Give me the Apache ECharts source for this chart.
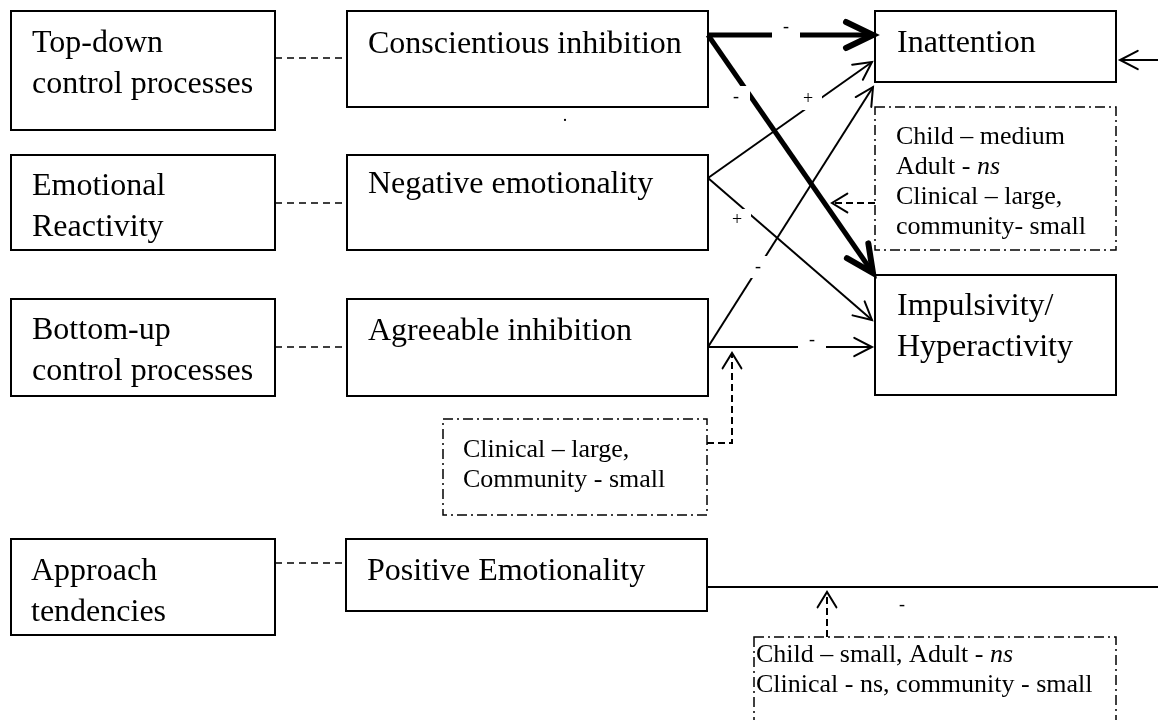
<!DOCTYPE html>
<html>
<head>
<meta charset="utf-8">
<title>Temperament traits and ADHD symptom pathways</title>
<script src="https://cdn.jsdelivr.net/npm/echarts@6/dist/echarts.min.js"></script>
<style>
  html, body { margin: 0; padding: 0; background: #fff; }
  #main { width: 1158px; height: 720px; }
</style>
</head>
<body>
<div id="main"></div>
<script>
// diagram units: x 0..1158, y 0..720 measured from the top

// solid boxes: text lines, rectangle [x0, y0, x1, y1], first baseline [x, y]
const boxText = [
  ['Top-down', 'control processes'],
  ['Emotional', 'Reactivity'],
  ['Bottom-up', 'control processes'],
  ['Approach', 'tendencies'],
  ['Conscientious inhibition'],
  ['Negative emotionality'],
  ['Agreeable inhibition'],
  ['Positive Emotionality'],
  ['Inattention'],
  ['Impulsivity/', 'Hyperactivity']
]
const boxRect = [
  [11, 11, 275, 130],
  [11, 155, 275, 250],
  [11, 299, 275, 396],
  [11, 539, 275, 635],
  [347, 11, 708, 107],
  [347, 155, 708, 250],
  [347, 299, 708, 396],
  [346, 539, 707, 611],
  [875, 11, 1116, 82],
  [875, 275, 1116, 395]
]
const boxTextAt = [
  [32, 52], [32, 195], [32, 339], [31, 580],
  [368, 53], [368, 193], [368, 340], [367, 580],
  [897, 52], [897, 315]
]

// dash-dot moderator notes
const noteText = [
  ['Child – medium', 'Adult - {i|ns}', 'Clinical – large,', 'community- small'],
  ['Clinical – large,', 'Community - small'],
  ['Child – small, Adult - {i|ns}', 'Clinical - ns, community - small']
]
const noteRect = [
  [875, 107, 1116, 250],
  [443, 419, 707, 515],
  [754, 637, 1116, 740]
]
const noteTextAt = [[896, 144], [463, 457], [756, 662]]

// dashed links between trait level and construct level
const linkPaths = [
  [[275, 58], [347, 58]],
  [[275, 203], [347, 203]],
  [[275, 347], [347, 347]],
  [[275, 563], [346, 563]]
]

// effects on symptoms
const strongPaths = [
  [[708, 35], [873, 35]],
  [[708, 35], [873, 273]]
]
const effectPaths = [
  [[708, 178], [872, 62]],
  [[708, 178], [872, 320]],
  [[708, 347], [873, 87]],
  [[708, 347], [872, 347]],
  [[1158, 60], [1120, 60]]
]
const plainPaths = [
  [[707, 587], [1158, 587]]
]
const moderatorPaths = [
  [[875, 203], [832, 203]],
  [[707, 443], [732, 443], [732, 353]],
  [[827, 637], [827, 592]]
]

// signs on the paths
const signText = ['-', '-', '+', '+', '-', '-', '-']
const signAt = [
  [786, 27], [736, 97], [808, 99], [737, 220],
  [758, 267], [812, 340], [902, 605]
]
// stray mark under the conscientious box
const dotText = ['.']
const dotAt = [[565, 116]]

const serif = '"Liberation Serif", "Times New Roman", serif'
const midShift = 0.25 // baseline offset below a 'middle' aligned line, in em

function textLines (api, lines, at, size, gap) {
  return lines.map((t, k) => {
    const q = api.coord([at[0], at[1] + k * gap])
    return {
      type: 'text',
      style: {
        text: t,
        x: q[0],
        y: q[1] - midShift * size,
        fontSize: size,
        fontFamily: serif,
        fill: '#000',
        align: 'left',
        verticalAlign: 'middle',
        rich: {
          i: { fontSize: size, fontFamily: serif, fontStyle: 'italic', fill: '#000' }
        }
      }
    }
  })
}

function rectShape (api, r) {
  const p0 = api.coord([r[0], r[1]])
  const p1 = api.coord([r[2], r[3]])
  return { x: p0[0], y: p0[1], width: p1[0] - p0[0], height: p1[1] - p0[1] }
}

function head (tip, from, len, half) {
  const a = Math.atan2(tip[1] - from[1], tip[0] - from[0])
  return [
    [tip[0] - len * Math.cos(a - half), tip[1] - len * Math.sin(a - half)],
    tip,
    [tip[0] - len * Math.cos(a + half), tip[1] - len * Math.sin(a + half)]
  ]
}

function pathSeries (name, paths, opts) {
  return {
    name: name,
    type: 'custom',
    coordinateSystem: 'cartesian2d',
    z: opts.z || 3,
    silent: true,
    data: paths.map(p => [p[0][0], p[0][1], p[p.length - 1][0], p[p.length - 1][1]]),
    encode: { x: [0, 2], y: [1, 3] },
    renderItem: (params, api) => {
      const pts = paths[params.dataIndex].map(p => api.coord(p))
      const children = [{
        type: 'polyline',
        shape: { points: pts },
        style: { stroke: '#000', fill: null, lineWidth: opts.width, lineDash: opts.dash || null, lineCap: 'butt' }
      }]
      if (opts.headLen) {
        const n = pts.length
        children.push({
          type: 'polyline',
          shape: { points: head(pts[n - 1], pts[n - 2], opts.headLen, opts.headAngle) },
          style: { stroke: '#000', fill: null, lineWidth: opts.headWidth || opts.width, lineJoin: 'miter', lineCap: 'round' }
        })
      }
      return { type: 'group', children: children }
    }
  }
}

function markSeries (name, texts, at, gapW, gapH) {
  return {
    name: name,
    type: 'custom',
    coordinateSystem: 'cartesian2d',
    z: 5,
    silent: true,
    data: at,
    encode: { x: 0, y: 1 },
    renderItem: (params, api) => {
      const i = params.dataIndex
      const q = api.coord(at[i])
      const children = []
      if (gapW) {
        children.push({
          type: 'rect',
          shape: { x: q[0] - gapW / 2, y: q[1] - gapH / 2, width: gapW, height: gapH },
          style: { fill: '#fff' }
        })
      }
      children.push({
        type: 'text',
        style: {
          text: texts[i],
          x: q[0],
          y: q[1],
          fontSize: 18,
          fontFamily: serif,
          fill: '#000',
          align: 'center',
          verticalAlign: 'middle'
        }
      })
      return { type: 'group', children: children }
    }
  }
}

const chart = echarts.init(document.getElementById('main'), null, { renderer: 'canvas' })

chart.setOption({
  backgroundColor: '#fff',
  animation: false,
  grid: { left: 0, right: 0, top: 0, bottom: 0 },
  xAxis: { type: 'value', min: 0, max: 1158, show: false },
  yAxis: { type: 'value', min: 0, max: 720, inverse: true, show: false },
  series: [
    {
      name: 'boxes',
      type: 'custom',
      coordinateSystem: 'cartesian2d',
      z: 2,
      silent: true,
      data: boxRect,
      encode: { x: [0, 2], y: [1, 3] },
      renderItem: (params, api) => {
        const i = params.dataIndex
        return {
          type: 'group',
          children: [{
            type: 'rect',
            shape: rectShape(api, boxRect[i]),
            style: { fill: '#fff', stroke: '#000', lineWidth: 2 }
          }].concat(textLines(api, boxText[i], boxTextAt[i], 32, 41))
        }
      }
    },
    {
      name: 'notes',
      type: 'custom',
      coordinateSystem: 'cartesian2d',
      z: 2,
      silent: true,
      data: noteRect,
      encode: { x: [0, 2], y: [1, 3] },
      renderItem: (params, api) => {
        const i = params.dataIndex
        return {
          type: 'group',
          children: [{
            type: 'rect',
            shape: rectShape(api, noteRect[i]),
            style: { fill: '#fff', stroke: '#000', lineWidth: 1.5, lineDash: [10, 4, 2, 4] }
          }].concat(textLines(api, noteText[i], noteTextAt[i], 26, 30))
        }
      }
    },
    pathSeries('links', linkPaths, { width: 1.5, dash: [7, 5] }),
    pathSeries('strong', strongPaths, { width: 5, headLen: 30, headAngle: 0.45, headWidth: 6 }),
    pathSeries('effects', effectPaths, { width: 2, headLen: 20, headAngle: 0.48 }),
    pathSeries('plain', plainPaths, { width: 2 }),
    pathSeries('moderators', moderatorPaths, { width: 2, dash: [7, 4], headLen: 18, headAngle: 0.55 }),
    markSeries('signs', signText, signAt, 28, 22),
    markSeries('dots', dotText, dotAt, 0, 0)
  ]
})
</script>
</body>
</html>
